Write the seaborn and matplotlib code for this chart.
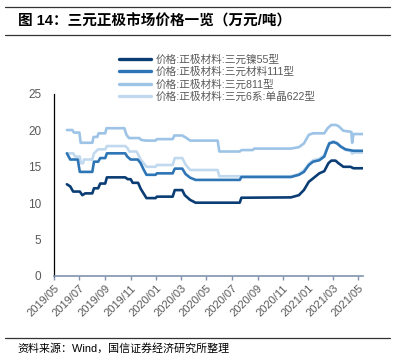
import matplotlib
matplotlib.use("Agg")
import matplotlib.pyplot as plt
import matplotlib.dates as mdates
from matplotlib.lines import Line2D
import pandas as pd
import seaborn as sns

sns.set_theme(style="white")
plt.rcParams["font.family"] = ["Liberation Sans", "Noto Sans CJK SC", "DejaVu Sans"]

TITLE = "图 14：三元正极市场价格一览（万元/吨）"
SOURCE = "资料来源：Wind，国信证券经济研究所整理"

labels = [
    "价格:正极材料:三元镍55型",
    "价格:正极材料:三元材料111型",
    "价格:正极材料:三元811型",
    "价格:正极材料:三元6系:单晶622型",
]
colors = ["#0B3D75", "#2E75B6", "#9DC3E6", "#C0D9EF"]

ncm55_dates = [
    "2019-06-01", "2019-06-09", "2019-06-16", "2019-07-02", "2019-07-08", "2019-07-15",
    "2019-08-01", "2019-08-05", "2019-08-15", "2019-08-20", "2019-09-01", "2019-09-05",
    "2019-10-19", "2019-10-25", "2019-11-01", "2019-11-06", "2019-11-19", "2019-11-25",
    "2019-12-02", "2019-12-09", "2019-12-31", "2020-01-03", "2020-02-10", "2020-02-15",
    "2020-03-04", "2020-03-10", "2020-03-23", "2020-04-05", "2020-07-20", "2020-07-24",
    "2020-11-20", "2020-12-09", "2020-12-21", "2021-01-02", "2021-01-12", "2021-01-27",
    "2021-02-08", "2021-02-18", "2021-02-25", "2021-03-07", "2021-03-14", "2021-03-26",
    "2021-04-12", "2021-04-19", "2021-05-12",
]
ncm55_values = [
    12.6, 12.3, 11.6, 11.6, 11.1, 11.35,
    11.35, 12.05, 12.05, 12.7, 12.7, 13.55,
    13.55, 13.3, 13.3, 12.8, 12.8, 12.0,
    11.35, 10.7, 10.7, 10.9, 10.9, 11.8,
    11.8, 11.1, 10.45, 10.07, 10.07, 10.75,
    10.8, 11.1, 11.8, 12.95, 13.4, 14.1,
    14.4, 15.5, 15.85, 15.85, 15.5, 15.0,
    15.0, 14.8, 14.8,
]

ncm111_dates = [
    "2019-06-01", "2019-06-09", "2019-06-27", "2019-07-02", "2019-08-01", "2019-08-05",
    "2019-08-15", "2019-08-20", "2019-09-01", "2019-09-05", "2019-10-19", "2019-10-24",
    "2019-11-01", "2019-11-18", "2019-11-25", "2019-12-02", "2019-12-09", "2019-12-31",
    "2020-01-03", "2020-02-10", "2020-02-15", "2020-03-04", "2020-03-12", "2020-03-23",
    "2020-04-05", "2020-07-20", "2020-07-24", "2020-11-20", "2020-12-09", "2020-12-21",
    "2021-01-02", "2021-01-12", "2021-01-27", "2021-02-08", "2021-02-15", "2021-02-20",
    "2021-03-02", "2021-03-11", "2021-03-19", "2021-03-31", "2021-04-19", "2021-05-12",
]
ncm111_values = [
    16.85, 16.0, 16.0, 14.3, 14.3, 15.7,
    15.7, 16.2, 16.2, 16.85, 16.85, 16.4,
    16.0, 16.0, 15.5, 14.65, 13.9, 13.9,
    14.1, 14.1, 14.75, 14.75, 14.0, 13.5,
    13.2, 13.2, 13.6, 13.6, 13.9, 14.3,
    15.25, 15.7, 15.9, 16.4, 17.5, 18.2,
    18.4, 18.2, 17.8, 17.4, 17.2, 17.2,
]

ncm811_dates = [
    "2019-06-01", "2019-06-14", "2019-06-18", "2019-07-01", "2019-07-04", "2019-08-01",
    "2019-08-04", "2019-08-13", "2019-08-16", "2019-09-01", "2019-09-04", "2019-10-17",
    "2019-10-22", "2019-10-28", "2019-11-22", "2019-11-26", "2019-12-07", "2019-12-31",
    "2020-01-03", "2020-02-10", "2020-02-14", "2020-03-04", "2020-03-13", "2020-03-23",
    "2020-05-28", "2020-06-01", "2020-07-20", "2020-07-24", "2020-08-20", "2020-08-24",
    "2020-11-20", "2020-12-09", "2020-12-21", "2021-01-02", "2021-01-12", "2021-02-08",
    "2021-02-16", "2021-02-25", "2021-03-07", "2021-03-14", "2021-03-26", "2021-04-14",
    "2021-04-16", "2021-04-19", "2021-05-12",
]
ncm811_values = [
    20.05, 20.05, 19.7, 19.7, 18.3, 18.3,
    19.1, 19.1, 19.6, 19.6, 20.3, 20.3,
    19.4, 18.95, 18.95, 18.7, 18.6, 18.6,
    18.8, 18.8, 19.3, 19.3, 19.0, 18.6,
    18.6, 17.1, 17.1, 17.3, 17.3, 17.5,
    17.5, 17.7, 18.2, 19.4, 19.6, 19.6,
    20.3, 20.75, 20.75, 20.6, 19.95, 19.8,
    18.3, 19.5, 19.5,
]

ncm622_dates = [
    "2019-06-01", "2019-06-16", "2019-06-21", "2019-07-02", "2019-07-04", "2019-07-10",
    "2019-07-12", "2019-08-01", "2019-08-05", "2019-08-15", "2019-09-01", "2019-09-05",
    "2019-10-19", "2019-10-24", "2019-10-29", "2019-11-15", "2019-11-20", "2019-11-25",
    "2019-12-02", "2019-12-09", "2019-12-31", "2020-01-03", "2020-02-10", "2020-02-15",
    "2020-03-04", "2020-03-12", "2020-03-23", "2020-05-28", "2020-06-01", "2020-11-20",
    "2020-12-09", "2020-12-21", "2021-01-02", "2021-01-12", "2021-01-27", "2021-02-08",
    "2021-02-15", "2021-02-20", "2021-03-02", "2021-03-11", "2021-03-19", "2021-03-31",
    "2021-04-12", "2021-04-16", "2021-04-19", "2021-05-12",
]
ncm622_values = [
    16.85, 16.85, 16.4, 16.4, 15.5, 15.5,
    16.0, 16.0, 16.85, 17.4, 17.4, 17.85,
    17.85, 17.6, 17.1, 17.1, 16.6, 16.0,
    15.5, 15.0, 15.0, 15.25, 15.25, 16.2,
    16.2, 15.3, 14.56, 14.56, 13.7, 13.7,
    14.0, 14.5, 15.4, 15.9, 16.1, 16.6,
    17.6, 18.3, 18.5, 18.3, 17.8, 17.3,
    17.2, 16.8, 16.95, 16.95,
]

series = [
    (labels[0], ncm55_dates, ncm55_values),
    (labels[1], ncm111_dates, ncm111_values),
    (labels[2], ncm811_dates, ncm811_values),
    (labels[3], ncm622_dates, ncm622_values),
]
df = pd.concat(
    [pd.DataFrame({"date": pd.to_datetime(d), "price": v, "series": name}) for name, d, v in series],
    ignore_index=True,
)

fig = plt.figure(figsize=(3.96, 3.64), dpi=100)
ax = fig.add_axes([54 / 396, 1 - 276 / 364, 309 / 396, 182 / 364])

# draw 622 before 111 so the darker line sits on top where they overlap
draw_order = [labels[0], labels[3], labels[2], labels[1]]
for name in draw_order:
    sub = df[df["series"] == name]
    sns.lineplot(data=sub, x="date", y="price", color=colors[labels.index(name)],
                 lw=1.9, estimator=None, ax=ax, legend=False)

ax.set_xlim(pd.Timestamp("2019-05-01"), pd.Timestamp("2021-05-12"))
ax.set_ylim(0, 25)
ax.set_yticks([0, 5, 10, 15, 20, 25])
ax.xaxis.set_major_locator(mdates.MonthLocator(bymonth=[1, 3, 5, 7, 9, 11]))
ax.xaxis.set_major_formatter(mdates.DateFormatter("%Y/%m"))
ax.set_xlabel("")
ax.set_ylabel("")

for side in ["top", "right"]:
    ax.spines[side].set_visible(False)
ax.spines["left"].set_color("#000000")
ax.spines["left"].set_linewidth(0.9)
ax.spines["bottom"].set_color("#7F93AE")
ax.spines["bottom"].set_linewidth(1.2)
ax.tick_params(axis="y", direction="out", length=3, width=0.9, color="#000000",
               labelsize=8.5, labelcolor="#595959", pad=6)
ax.tick_params(axis="x", direction="out", length=3, width=1, color="#7F93AE",
               labelsize=8, labelcolor="#595959", pad=2, bottom=True)
for lab in ax.get_xticklabels():
    lab.set_rotation(45)
    lab.set_ha("right")
    lab.set_rotation_mode("anchor")

handles = [Line2D([], [], color=c, lw=2.4) for c in colors]
fig.legend(handles, labels, loc="upper left", bbox_to_anchor=(114 / 396, 1 - 49 / 364),
           frameon=False, fontsize=7.7, handlelength=3.0, handletextpad=0.35,
           labelspacing=0.22, borderpad=0, labelcolor="#595959")

# title block and source note
fig.add_artist(Line2D([5 / 396, 390 / 396], [1 - 7 / 364, 1 - 7 / 364], color="#333333", lw=0.9))
fig.add_artist(Line2D([5 / 396, 390 / 396], [1 - 35 / 364, 1 - 35 / 364], color="#333333", lw=0.9))
fig.text(18 / 396, 1 - 21 / 364, TITLE, fontsize=10.5, fontweight="bold", va="center", ha="left",
         color="#000000")
fig.add_artist(Line2D([5 / 396, 390 / 396], [1 - 338 / 364, 1 - 338 / 364], color="#333333", lw=0.9))
fig.text(17 / 396, 1 - 348 / 364, SOURCE, fontsize=7.9, va="center", ha="left", color="#000000")

fig.savefig("out.png", dpi=100)
